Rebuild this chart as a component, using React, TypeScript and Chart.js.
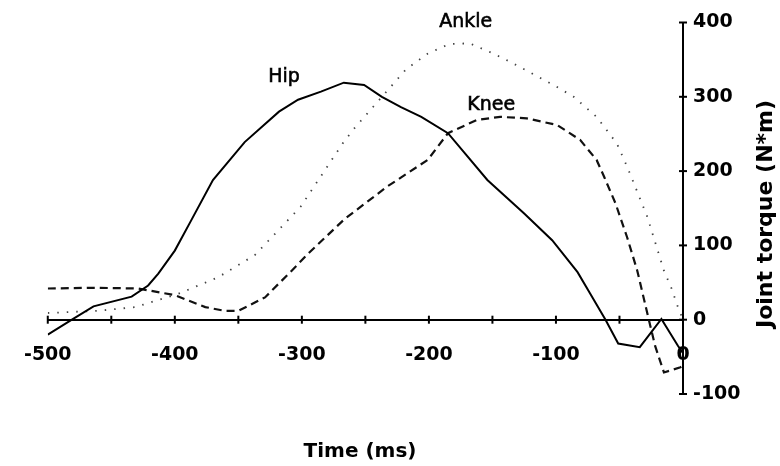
import React, { useEffect, useRef } from 'react';
import { Chart, registerables } from 'chart.js';

Chart.register(...registerables);

// ---- data ----
const hipTime = [-500, -481, -464, -434, -421, -413, -400, -387, -370, -345, -318, -303, -285, -267, -251, -237, -222, -206, -185, -154, -125, -103, -83, -73, -61, -51, -34, -17, -4, 0];
const hipTorque = [-20, 0, 18, 31, 46, 62, 93, 134, 188, 239, 280, 296, 307, 319, 316, 300, 286, 273, 251, 188, 143, 107, 64, 35, 0, -32, -37, 1, -35, -45];

const kneeTime = [-500, -465, -429, -400, -376, -361, -350, -329, -308, -295, -266, -233, -201, -185, -162, -144, -123, -99, -81, -68, -62, -53, -44, -36, -28, -22, -15, -2, 0];
const kneeTorque = [42, 43, 42, 33, 17, 12, 12, 30, 66, 89, 136, 179, 215, 251, 269, 273, 271, 262, 242, 215, 192, 156, 111, 66, 8, -35, -71, -64, -62];

const ankleTime = [-500, -460, -431, -397, -366, -337, -301, -268, -259, -218, -201, -184, -168, -149, -136, -102, -86, -68, -52, -44, -39, -28, -15, -9, -4, 0];
const ankleTorque = [9, 12, 17, 35, 57, 87, 152, 237, 257, 337, 358, 371, 372, 358, 347, 316, 300, 273, 237, 206, 185, 138, 66, 42, 17, 0];

const xLabelValues = [-500, -400, -300, -200, -100, 0];
const yLabelValues = [-100, 0, 100, 200, 300, 400];

const curveNames = ['Hip', 'Knee', 'Ankle'];
const nameTime = [-314, -151, -171];
const nameTorque = [327, 289, 401];

const xTitle = 'Time (ms)';
const yTitle = 'Joint torque (N*m)';

const FONT = '"DejaVu Sans", "Liberation Sans", sans-serif';

function toPoints(t: number[], v: number[]) {
  return t.map((x, i) => ({ x, y: v[i] }));
}

const overlayPlugin = {
  id: 'overlay',
  afterDraw(chart: any) {
    const { ctx, scales } = chart;
    const xs = scales.x;
    const ys = scales.y;
    ctx.save();
    // crossing tick marks
    ctx.strokeStyle = '#000';
    ctx.lineWidth = 2;
    const y0 = ys.getPixelForValue(0);
    xs.ticks.forEach((t: any) => {
      const px = xs.getPixelForValue(t.value);
      ctx.beginPath();
      ctx.moveTo(px, y0 - 4);
      ctx.lineTo(px, y0 + 4);
      ctx.stroke();
    });
    const x0 = xs.getPixelForValue(0);
    ys.ticks.forEach((t: any) => {
      const py = ys.getPixelForValue(t.value);
      ctx.beginPath();
      ctx.moveTo(x0 - 4, py);
      ctx.lineTo(x0 + 4, py);
      ctx.stroke();
    });
    // curve names
    ctx.fillStyle = '#000';
    ctx.strokeStyle = '#000';
    ctx.lineWidth = 0.6;
    ctx.textAlign = 'center';
    ctx.textBaseline = 'middle';
    ctx.font = `19px ${FONT}`;
    curveNames.forEach((n, i) => {
      const px = xs.getPixelForValue(nameTime[i]);
      const py = ys.getPixelForValue(nameTorque[i]);
      ctx.fillText(n, px, py);
      ctx.strokeText(n, px, py);
    });
    // axis titles
    ctx.font = `bold 20px ${FONT}`;
    ctx.fillText(xTitle, 360, 452);
    ctx.font = `bold 22px ${FONT}`;
    ctx.translate(766, 214);
    ctx.rotate(-Math.PI / 2);
    ctx.fillText(yTitle, 0, 0);
    ctx.restore();
  },
};

export default function App() {
  const canvasRef = useRef<HTMLCanvasElement | null>(null);

  useEffect(() => {
    if (!canvasRef.current) return;
    const tickFont = { family: FONT, size: 19, weight: 'bold' as const };
    const chart = new Chart(canvasRef.current, {
      type: 'line',
      data: {
        datasets: [
          {
            label: 'Hip',
            data: toPoints(hipTime, hipTorque),
            borderColor: '#000',
            borderWidth: 2,
            pointRadius: 0,
            tension: 0,
          },
          {
            label: 'Knee',
            data: toPoints(kneeTime, kneeTorque),
            borderColor: '#111',
            borderWidth: 2.2,
            borderDash: [8, 5],
            pointRadius: 0,
            tension: 0,
          },
          {
            label: 'Ankle',
            data: toPoints(ankleTime, ankleTorque),
            borderColor: '#444',
            borderWidth: 1.8,
            borderDash: [1.5, 8],
            pointRadius: 0,
            tension: 0,
          },
        ],
      },
      options: {
        animation: false,
        responsive: false,
        maintainAspectRatio: false,
        layout: { padding: { left: 46, right: 37, top: 22.5, bottom: 72 } },
        plugins: {
          legend: { display: false },
          tooltip: { enabled: false },
        },
        scales: {
          x: {
            type: 'linear',
            position: { y: 0 } as any,
            min: -500,
            max: 0,
            grid: { display: false, drawTicks: false },
            border: { display: true, color: '#000', width: 2 },
            ticks: {
              stepSize: 50,
              autoSkip: false,
              maxRotation: 0,
              padding: 24,
              color: '#000',
              font: tickFont,
              callback: (v: any) => (xLabelValues.includes(Number(v)) ? String(v) : ''),
            },
            afterFit: (s: any) => {
              s.height = 0;
            },
          },
          y: {
            type: 'linear',
            position: 'right',
            min: -100,
            max: 400,
            grid: { display: false, drawTicks: false },
            border: { display: true, color: '#000', width: 2 },
            ticks: {
              stepSize: 100,
              padding: 10,
              color: '#000',
              font: tickFont,
              callback: (v: any) => (yLabelValues.includes(Number(v)) ? String(v) : ''),
            },
            afterFit: (s: any) => {
              s.width = 60;
            },
          },
        },
      },
      plugins: [overlayPlugin],
    });
    return () => chart.destroy();
  }, []);

  return (
    <div style={{ position: 'absolute', left: 0, top: 0, width: 780, height: 466, background: '#fff' }}>
      <canvas ref={canvasRef} width={780} height={466} style={{ display: 'block' }} />
    </div>
  );
}
